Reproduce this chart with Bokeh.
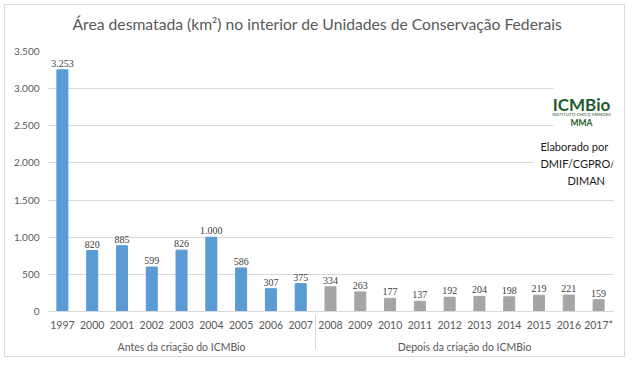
from bokeh.plotting import figure
from bokeh.models import (FactorRange, Range1d, ColumnDataSource, LabelSet, Label,
                          BoxAnnotation, FixedTicker, Title)
from bokeh.embed import file_html
from bokeh.resources import INLINE

# ---- data ----
group_before = "Antes da criação do ICMBio"
group_after = "Depois da criação do ICMBio"
years_before = ["1997", "2000", "2001", "2002", "2003", "2004", "2005", "2006", "2007"]
years_after = ["2008", "2009", "2010", "2011", "2012", "2013", "2014", "2015", "2016", "2017*"]
values_before = [3253, 820, 885, 599, 826, 1000, 586, 307, 375]
values_after = [334, 263, 177, 137, 192, 204, 198, 219, 221, 159]
y_ticks = [0, 500, 1000, 1500, 2000, 2500, 3000, 3500]
y_tick_labels = ["0", "500", "1.000", "1.500", "2.000", "2.500", "3.000", "3.500"]
title_text = "Área desmatada (km²) no interior de Unidades de Conservação Federais"

BLUE = "#5B9BD5"
GREY = "#A5A5A5"
TXT = "#595959"
FONT = "Lato"

factors = [(group_before, y) for y in years_before] + [(group_after, y) for y in years_after]
values = values_before + values_after
colors = [BLUE] * len(years_before) + [GREY] * len(years_after)
labels = [f"{v:,}".replace(",", ".") for v in values]

src = ColumnDataSource(dict(x=factors, top=values, color=colors, label=labels))

p = figure(x_range=FactorRange(*factors, factor_padding=0, group_padding=0, range_padding=0),
           y_range=Range1d(0, 3500),
           width=621, height=353, output_backend="svg", toolbar_location=None,
           min_border_left=42, min_border_right=13, min_border_top=46, min_border_bottom=47)

p.vbar(x="x", top="top", width=0.37, color="color", source=src)

p.add_layout(LabelSet(x="x", y="top", text="label", source=src, text_align="center",
                      text_baseline="bottom", y_offset=3, text_font=FONT,
                      text_font_size="10px", text_color="#404040"))

# title: spacer nearest the frame, then the real title
p.title.text = ""
p.add_layout(Title(text=" ", text_font_size="15px", standoff=0), "above")
p.add_layout(Title(text=title_text, align="left", offset=25, standoff=0,
                   text_font=FONT, text_font_size="15.7px", text_font_style="normal",
                   text_color=TXT), "above")

# axes
p.yaxis.ticker = FixedTicker(ticks=y_ticks)
p.yaxis.major_label_overrides = {t: l for t, l in zip(y_ticks, y_tick_labels)}
p.yaxis.axis_line_color = None
p.yaxis.major_tick_line_color = None
p.yaxis.major_tick_out = 0
p.yaxis.minor_tick_line_color = None
p.yaxis.major_label_standoff = 8
p.yaxis.major_label_text_font = FONT
p.yaxis.major_label_text_font_size = "10px"
p.yaxis.major_label_text_color = TXT

p.xaxis.axis_line_color = "#D9D9D9"
p.xaxis.major_tick_line_color = None
p.xaxis.major_tick_out = 0
p.xaxis.minor_tick_line_color = None
p.xaxis.major_label_standoff = 7
p.xaxis.major_label_text_font = FONT
p.xaxis.major_label_text_font_size = "10.5px"
p.xaxis.major_label_text_color = TXT
p.xaxis.group_text_font = FONT
p.xaxis.group_text_font_size = "10.5px"
p.xaxis.group_text_font_style = "normal"
p.xaxis.group_text_color = TXT
p.xaxis.separator_line_color = "#D9D9D9"
p.xaxis.separator_line_width = 1

p.xgrid.grid_line_color = None
p.ygrid.grid_line_color = "#D9D9D9"
p.outline_line_color = None

# logo area background
p.add_layout(BoxAnnotation(left=506, right=566, bottom=171, top=256,
                           left_units="screen", right_units="screen",
                           bottom_units="screen", top_units="screen",
                           fill_color="white", fill_alpha=1, line_color=None))
p.add_layout(BoxAnnotation(left=486, right=566, bottom=121, top=171,
                           left_units="screen", right_units="screen",
                           bottom_units="screen", top_units="screen",
                           fill_color="white", fill_alpha=1, line_color=None))

LOGO = "#1F5B2C"
p.add_layout(Label(x=534, y=207, x_units="screen", y_units="screen", text="ICMBio",
                   text_align="center", text_baseline="middle", text_font=FONT,
                   text_font_size="17px", text_font_style="bold", text_color=LOGO))
p.add_layout(Label(x=534, y=197, x_units="screen", y_units="screen", text="INSTITUTO CHICO MENDES",
                   text_align="center", text_baseline="middle", text_font=FONT,
                   text_font_size="4.5px", text_color=LOGO))
p.add_layout(Label(x=534, y=189, x_units="screen", y_units="screen", text="MMA",
                   text_align="center", text_baseline="middle", text_font=FONT,
                   text_font_size="8.5px", text_font_style="bold", text_color=LOGO))

for txt, xx, yy in [("Elaborado por", 493, 165), ("DMIF/CGPRO/", 493, 148), ("DIMAN", 520, 131)]:
    p.add_layout(Label(x=xx, y=yy, x_units="screen", y_units="screen", text=txt,
                       text_align="left", text_baseline="middle", text_font=FONT,
                       text_font_size="11px", text_color="#1a1a1a"))

p.styles = {"border": "1px solid #D9D9D9", "margin": "4px"}

open("out.html", "w").write(file_html(p, INLINE))
